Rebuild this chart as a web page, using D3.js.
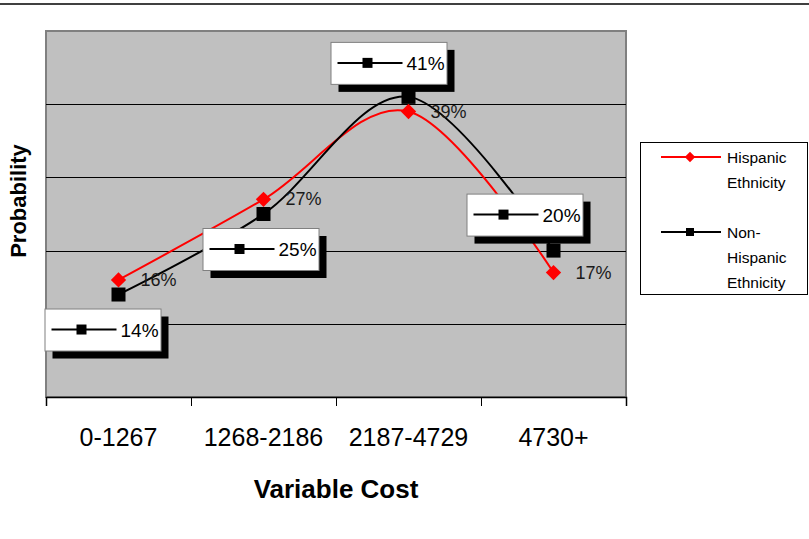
<!DOCTYPE html>
<html><head><meta charset="utf-8">
<script src="https://cdn.jsdelivr.net/npm/d3@7"></script>
<style>
html,body{margin:0;padding:0;background:#fff;}
svg{display:block;}
</style></head>
<body>
<svg id="chart" width="809" height="539"></svg>
<script>
const categories = ["0-1267", "1268-2186", "2187-4729", "4730+"];
const hispanic = [0.16, 0.27, 0.39, 0.17];
const nonHispanic = [0.14, 0.25, 0.41, 0.20];
const hispanicLabels = ["16%", "27%", "39%", "17%"];
const nonHispanicLabels = ["14%", "25%", "41%", "20%"];
const yTicks = [0.1, 0.2, 0.3, 0.4, 0.5];
const seriesNames = [["Hispanic", "Ethnicity"], ["Non-", "Hispanic", "Ethnicity"]];
// label box offsets (layout) relative to each point: [dx, dy] of box centre
const boxOffsets = [[-16, 35], [-3, 35], [-20, -34], [-29, -36]];

const svg = d3.select("#chart");
const L = 46, R = 626, T = 31, B = 397;
const x = d3.scaleBand().domain(categories).range([L, R]);
const y = d3.scaleLinear().domain([0, 0.5]).range([B, T]);
const cx = c => x(c) + x.bandwidth() / 2;
const font = "'Liberation Sans', Arial, sans-serif";

// top rule
svg.append("line").attr("x1", 0).attr("x2", 809).attr("y1", 4).attr("y2", 4)
  .attr("stroke", "#404040").attr("stroke-width", 2);

// plot area
svg.append("rect").attr("x", L).attr("y", T).attr("width", R - L).attr("height", B - T)
  .attr("fill", "#c0c0c0").attr("stroke", "#808080").attr("stroke-width", 2);

// gridlines
svg.append("g").selectAll("line").data(yTicks.slice(0, -1)).join("line")
  .attr("x1", L).attr("x2", R).attr("y1", d => Math.round(y(d)) + 0.5).attr("y2", d => Math.round(y(d)) + 0.5)
  .attr("stroke", "#000").attr("stroke-width", 1);

// x axis
const xAxis = d3.axisBottom(d3.scaleLinear().domain([0, 4]).range([L, R]))
  .tickValues([0, 1, 2, 3, 4]).tickSize(9).tickFormat("");
const gx = svg.append("g").attr("transform", `translate(0,${B})`).call(xAxis);
gx.select(".domain").attr("stroke", "#000").attr("stroke-width", 1.5);
gx.selectAll(".tick line").attr("stroke", "#000");

svg.append("g").selectAll("text").data(categories).join("text")
  .attr("x", d => cx(d)).attr("y", 446).attr("text-anchor", "middle")
  .attr("font-family", font).attr("font-size", 25).attr("fill", "#000").text(d => d);

svg.append("text").attr("x", 336).attr("y", 498).attr("text-anchor", "middle")
  .attr("font-family", font).attr("font-weight", "bold").attr("font-size", 26).text("Variable Cost");

svg.append("text").attr("transform", "translate(26,201) rotate(-90)").attr("text-anchor", "middle")
  .attr("font-family", font).attr("font-weight", "bold").attr("font-size", 22).text("Probability");

// lines
const line = d3.line().x((d, i) => cx(categories[i])).y(d => y(d)).curve(d3.curveCatmullRom.alpha(0));
svg.append("path").attr("d", line(hispanic)).attr("fill", "none").attr("stroke", "#ff0000").attr("stroke-width", 2);
svg.append("path").attr("d", line(nonHispanic)).attr("fill", "none").attr("stroke", "#000").attr("stroke-width", 2);

// markers
const diamond = d3.symbol().type(d3.symbolDiamond2).size(150);
svg.append("g").selectAll("path").data(hispanic).join("path")
  .attr("transform", (d, i) => `translate(${cx(categories[i])},${y(d)})`)
  .attr("d", diamond).attr("fill", "#ff0000");
svg.append("g").selectAll("rect").data(nonHispanic).join("rect")
  .attr("x", (d, i) => cx(categories[i]) - 7).attr("y", d => y(d) - 7)
  .attr("width", 14).attr("height", 14).attr("fill", "#000");

// hispanic labels
svg.append("g").selectAll("text").data(hispanic).join("text")
  .attr("x", (d, i) => cx(categories[i]) + 22).attr("y", d => y(d) + 6)
  .attr("font-family", font).attr("font-size", 18).attr("fill", "#1a1a1a")
  .text((d, i) => hispanicLabels[i]);

// non-hispanic label boxes
const bw = 116, bh = 42;
const boxes = svg.append("g").selectAll("g").data(nonHispanic).join("g")
  .attr("transform", (d, i) => `translate(${cx(categories[i]) + boxOffsets[i][0] - bw / 2},${y(d) + boxOffsets[i][1] - bh / 2})`);
boxes.append("rect").attr("x", 8).attr("y", 8).attr("width", bw).attr("height", bh).attr("fill", "#000");
boxes.append("rect").attr("x", 0.5).attr("y", 0.5).attr("width", bw).attr("height", bh).attr("fill", "#fff").attr("stroke", "#808080");
boxes.append("line").attr("x1", 7).attr("x2", 72).attr("y1", bh / 2).attr("y2", bh / 2).attr("stroke", "#000").attr("stroke-width", 2);
boxes.append("rect").attr("x", 32).attr("y", bh / 2 - 5).attr("width", 10).attr("height", 10).attr("fill", "#000");
boxes.append("text").attr("x", 76).attr("y", bh / 2 + 7).attr("font-family", font).attr("font-size", 19)
  .attr("fill", "#000").text((d, i) => nonHispanicLabels[i]);

// legend
const lg = svg.append("g");
lg.append("rect").attr("x", 640.5).attr("y", 142.5).attr("width", 167).attr("height", 152)
  .attr("fill", "#fff").attr("stroke", "#000");
const legendRows = [
  { color: "#ff0000", kind: "diamond", y: 157, lines: seriesNames[0] },
  { color: "#000", kind: "square", y: 232, lines: seriesNames[1] }
];
legendRows.forEach(r => {
  lg.append("line").attr("x1", 661).attr("x2", 721).attr("y1", r.y).attr("y2", r.y).attr("stroke", r.color).attr("stroke-width", 2);
  if (r.kind === "diamond") {
    lg.append("path").attr("transform", `translate(690,${r.y})`).attr("d", d3.symbol().type(d3.symbolDiamond2).size(70)).attr("fill", r.color);
  } else {
    lg.append("rect").attr("x", 686).attr("y", r.y - 4).attr("width", 8).attr("height", 8).attr("fill", r.color);
  }
  r.lines.forEach((t, k) => {
    lg.append("text").attr("x", 727).attr("y", r.y + 6 + k * 25).attr("font-family", font).attr("font-size", 15.5).text(t);
  });
});
</script>
</body></html>
